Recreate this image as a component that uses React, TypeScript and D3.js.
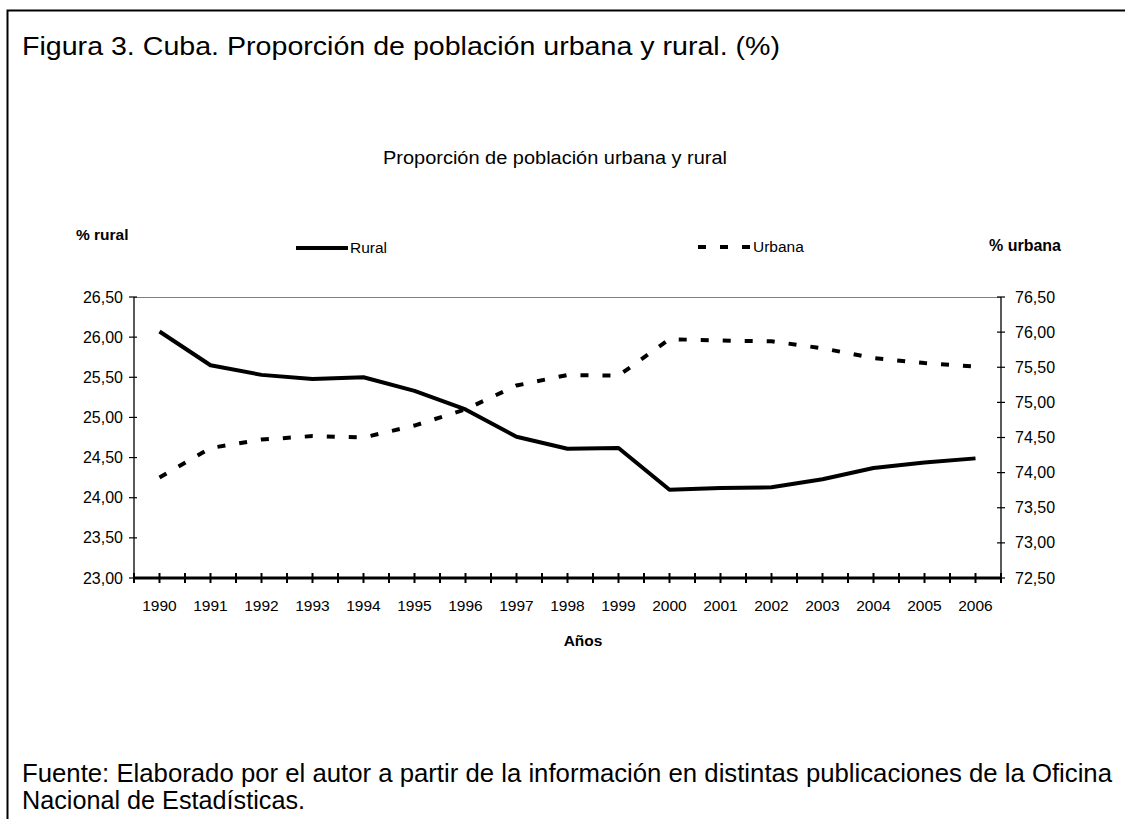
import React from "react";
import * as d3 from "d3";

const years = ["1990","1991","1992","1993","1994","1995","1996","1997","1998","1999","2000","2001","2002","2003","2004","2005","2006"];
const rural = [26.07, 25.65, 25.53, 25.48, 25.5, 25.33, 25.1, 24.76, 24.61, 24.62, 24.1, 24.12, 24.13, 24.23, 24.37, 24.44, 24.49];
const urbana = [73.93, 74.35, 74.47, 74.52, 74.5, 74.67, 74.9, 75.24, 75.39, 75.38, 75.9, 75.88, 75.87, 75.77, 75.63, 75.56, 75.51];
const leftTicks = [23, 23.5, 24, 24.5, 25, 25.5, 26, 26.5];
const rightTicks = [72.5, 73, 73.5, 74, 74.5, 75, 75.5, 76, 76.5];

const FONT = "Arial, 'Liberation Sans', Helvetica, sans-serif";
const fmt = (v: number) => v.toFixed(2).replace(".", ",");

export default function App() {
  const x0 = 134, x1 = 1001, yTop = 297, yBot = 578;
  const x = d3.scaleBand<string>().domain(years).range([x0, x1]).paddingInner(0).paddingOuter(0);
  const cx = (y: string) => (x(y) as number) + x.bandwidth() / 2;
  const yL = d3.scaleLinear().domain([23, 26.5]).range([yBot, yTop]);
  const yR = d3.scaleLinear().domain([72.5, 76.5]).range([yBot, yTop]);

  const lineR = d3.line<number>().x((_, i) => cx(years[i])).y((d) => yL(d));
  const lineU = d3.line<number>().x((_, i) => cx(years[i])).y((d) => yR(d));

  const xTicks: number[] = [];
  years.forEach((yr) => {
    xTicks.push(x(yr) as number);
    xTicks.push(cx(yr));
  });
  xTicks.push(x1);

  return (
    <svg width={1125} height={819} style={{ position: "absolute", left: 0, top: 0, background: "#fff" }} fontFamily={FONT}>
      <rect x={0} y={0} width={1125} height={819} fill="#fff" />
      <path d="M1127,10.5 H7.5 V821" fill="none" stroke="#000" strokeWidth={2} />
      <text x={22} y={55} fontSize={26} textLength={758} lengthAdjust="spacingAndGlyphs">Figura 3. Cuba. Proporción de población urbana y rural. (%)</text>
      <text x={383} y={164} fontSize={18} textLength={344} lengthAdjust="spacingAndGlyphs">Proporción de población urbana y rural</text>

      <text x={76} y={240} fontSize={15.5} fontWeight="bold">% rural</text>
      <text x={989} y={251} fontSize={16} fontWeight="bold">% urbana</text>

      {/* legend */}
      <line x1={296} x2={348} y1={248} y2={248} stroke="#000" strokeWidth={4} />
      <text x={350} y={253} fontSize={15.5}>Rural</text>
      <line x1={698} x2={750} y1={247} y2={247} stroke="#000" strokeWidth={4} strokeDasharray="8,14" />
      <text x={753} y={252} fontSize={15.5}>Urbana</text>

      {/* plot top border */}
      <line x1={x0} x2={x1} y1={yTop + 0.5} y2={yTop + 0.5} stroke="#808080" strokeWidth={1} />

      {/* left axis */}
      <line x1={x0} x2={x0} y1={yTop} y2={yBot} stroke="#000" strokeWidth={1.3} />
      {leftTicks.map((t) => (
        <g key={"l" + t}>
          <line x1={x0 - 5} x2={x0 + 3} y1={yL(t)} y2={yL(t)} stroke="#000" strokeWidth={1.2} />
          <text x={x0 - 11} y={yL(t) + 5.5} fontSize={16} textAnchor="end">{fmt(t)}</text>
        </g>
      ))}

      {/* right axis */}
      <line x1={x1} x2={x1} y1={yTop} y2={yBot} stroke="#000" strokeWidth={1.3} />
      {rightTicks.map((t) => (
        <g key={"r" + t}>
          <line x1={x1 - 4} x2={x1 + 4} y1={yR(t)} y2={yR(t)} stroke="#000" strokeWidth={1.2} />
          <text x={x1 + 14} y={yR(t) + 5.5} fontSize={16}>{fmt(t)}</text>
        </g>
      ))}

      {/* x axis */}
      <line x1={x0} x2={x1} y1={yBot} y2={yBot} stroke="#000" strokeWidth={3} />
      {xTicks.map((t, i) => (
        <line key={"x" + i} x1={t} x2={t} y1={yBot - 5} y2={yBot + 5} stroke="#000" strokeWidth={2} />
      ))}
      {years.map((yr) => (
        <text key={yr} x={cx(yr)} y={611} fontSize={15.5} textAnchor="middle">{yr}</text>
      ))}
      <text x={583} y={646} fontSize={15.5} fontWeight="bold" textAnchor="middle">Años</text>

      {/* series */}
      <path d={lineU(urbana) || ""} fill="none" stroke="#000" strokeWidth={4} strokeDasharray="8,14" />
      <path d={lineR(rural) || ""} fill="none" stroke="#000" strokeWidth={4} strokeLinejoin="round" />

      <text x={22} y={782} fontSize={25} textLength={1090} lengthAdjust="spacingAndGlyphs">Fuente: Elaborado por el autor a partir de la información en distintas publicaciones de la Oficina</text>
      <text x={22} y={809} fontSize={25} textLength={283} lengthAdjust="spacingAndGlyphs">Nacional de Estadísticas.</text>
    </svg>
  );
}
